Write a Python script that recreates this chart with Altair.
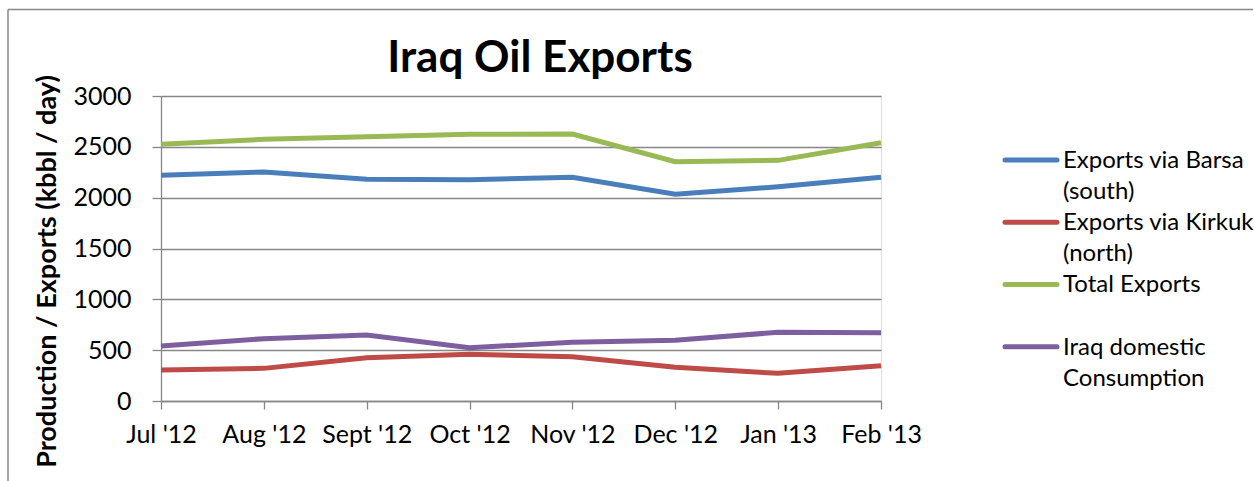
import altair as alt
import pandas as pd

months = ["Jul '12", "Aug '12", "Sept '12", "Oct '12", "Nov '12", "Dec '12", "Jan '13", "Feb '13"]
series = ["Exports via Barsa (south)", "Exports via Kirkuk (north)", "Total Exports", "Iraq domestic Consumption"]
legend_labels = ["Exports via Barsa\n(south)", "Exports via Kirkuk\n(north)", "Total Exports", "Iraq domestic\nConsumption"]
colors = ["#4A7EBB", "#BE4B48", "#98B954", "#7D5FA0"]
title_text = "Iraq Oil Exports"

barsa = [2220, 2252, 2180, 2177, 2200, 2033, 2108, 2200]
kirkuk = [305, 321, 426, 459, 436, 331, 272, 347]
total = [2525, 2574, 2600, 2623, 2626, 2354, 2367, 2541]
domestic = [541, 613, 649, 524, 577, 597, 676, 672]

values = [barsa, kirkuk, total, domestic]
rows = []
for s, vals in zip(series, values):
    for m, v in zip(months, vals):
        rows.append({"month": m, "series": s, "value": v})
df = pd.DataFrame(rows)
leg_df = pd.DataFrame({"series": series, "label": legend_labels})

FONT = "Lato"
GRID = "#878787"

color = alt.Color("series:N", scale=alt.Scale(domain=series, range=colors), legend=None)

lines = alt.Chart(df).mark_line(strokeWidth=5).encode(
    x=alt.X("month:O", sort=months, scale=alt.Scale(type="point", padding=0),
            axis=alt.Axis(title=None, labelAngle=0, labelFontSize=25, labelFont=FONT, labelColor="#000000",
                          tickSize=8, tickColor=GRID, tickWidth=1.3, domainColor=GRID, domainWidth=1.3,
                          labelPadding=13, grid=False, labelOverlap=False)),
    y=alt.Y("value:Q", scale=alt.Scale(domain=[0, 3000], nice=False),
            axis=alt.Axis(values=[0, 500, 1000, 1500, 2000, 2500, 3000], format="d",
                          title="Production / Exports (kbbl / day)",
                          titleFont=FONT, titleFontSize=27, titleFontWeight="bold", titleColor="#000000",
                          titleAngle=270, titleX=-114, titleY=175, titleAlign="center", titleBaseline="middle",
                          labelFontSize=25, labelFont=FONT, labelColor="#000000", labelPadding=21,
                          tickSize=9, tickColor=GRID, tickWidth=1.3, domainColor=GRID, domainWidth=1.3,
                          grid=True, gridColor=GRID, gridWidth=1.3)),
    color=color,
    detail="series:N",
)

leg_y = alt.Y("series:N", scale=alt.Scale(type="point", domain=series, range=[64, 250.7], padding=0), axis=None)

leg_lines = alt.Chart(leg_df).mark_rule(strokeWidth=5, strokeCap="round").encode(
    x=alt.value(844), x2=alt.value(896), y=leg_y, color=color
)
leg_text = alt.Chart(leg_df).mark_text(align="left", baseline="alphabetic", dy=8, lineBreak="\n",
                                      lineHeight=31, fontSize=24, font=FONT, color="#000000").encode(
    x=alt.value(902), y=leg_y, text="label:N"
)

single = pd.DataFrame({"t": [title_text]})
title_mark = alt.Chart(single).mark_text(align="center", baseline="alphabetic", fontSize=44,
                                         fontWeight="bold", font=FONT, color="#000000").encode(
    x=alt.value(379), y=alt.value(-24), text="t:N"
)
border_top = alt.Chart(single).mark_rule(color="#888888", strokeWidth=1.5).encode(
    x=alt.value(-153), x2=alt.value(1092), y=alt.value(-86.5)
)
border_left = alt.Chart(single).mark_rule(color="#888888", strokeWidth=1.5).encode(
    x=alt.value(-153), y=alt.value(-86.5), y2=alt.value(390)
)

chart = alt.layer(lines, leg_lines, leg_text, title_mark, border_top, border_left).resolve_scale(
    y="independent"
).properties(
    width=720, height=305,
    autosize=alt.AutoSizeParams(type="none"),
    padding={"left": 161, "top": 96, "right": 373, "bottom": 80},
).configure_view(stroke=None).configure(background="white")

chart.save("out.html", embed_options={"renderer": "svg", "actions": False})
